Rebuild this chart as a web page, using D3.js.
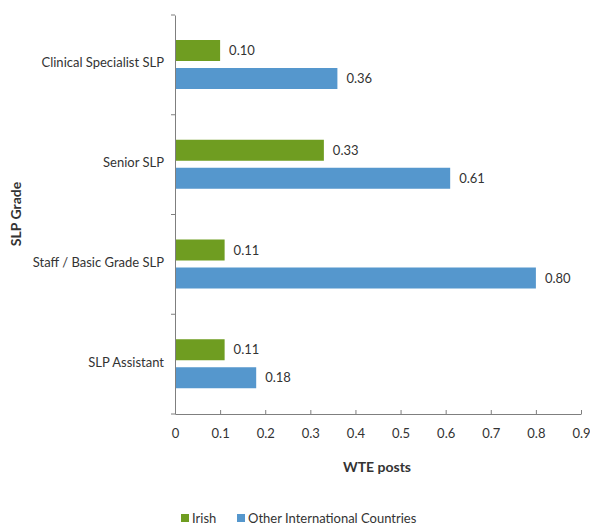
<!DOCTYPE html>
<html><head><meta charset="utf-8">
<script src="https://cdn.jsdelivr.net/npm/d3@7"></script>
<style>body{margin:0;background:#fff}svg{display:block}</style>
</head><body>
<script>
const categories = ["Clinical Specialist SLP","Senior SLP","Staff / Basic Grade SLP","SLP Assistant"];
const seriesNames = ["Irish","Other International Countries"];
const irish = [0.10, 0.33, 0.11, 0.11];
const other = [0.36, 0.61, 0.80, 0.18];
const xTicks = [0,0.1,0.2,0.3,0.4,0.5,0.6,0.7,0.8,0.9];
const colors = ["#6f9d21","#5597cd"];

const W=590,H=528;
const svg=d3.select("body").append("svg").attr("width",W).attr("height",H)
  .style("font-family","Lato, 'Open Sans', sans-serif");
const txt="#333333";
const x=d3.scaleLinear().domain([0,0.9]).range([175,581]);
const y=d3.scaleBand().domain(categories).range([15,414]);
const inner=d3.scaleBand().domain(seriesNames).range([25,74]).paddingInner(0.25);

const data=categories.map((c,i)=>({c,vals:[irish[i],other[i]]}));
const g=svg.append("g");
data.forEach(d=>{
  d.vals.forEach((v,j)=>{
    const yy=y(d.c)+inner(seriesNames[j]);
    g.append("rect").attr("x",x(0)).attr("y",yy).attr("width",x(v)-x(0)).attr("height",inner.bandwidth())
      .attr("fill",colors[j]);
    g.append("text").attr("x",x(v)+9).attr("y",yy+inner.bandwidth()/2).attr("dy","0.35em")
      .attr("font-size",13).attr("fill",txt).text(v.toFixed(2));
  });
});

// x axis
const xa=svg.append("g").attr("transform","translate(0,414)")
  .call(d3.axisBottom(x).tickValues(xTicks).tickFormat(d=>d===0?"0":d3.format(".1f")(d)).tickSizeInner(-4).tickSizeOuter(0).tickPadding(15));
xa.select(".domain").attr("stroke","#7f7f7f");
xa.selectAll(".tick line").attr("stroke","#7f7f7f");
xa.selectAll("text").attr("font-size",13).attr("fill",txt).attr("font-family","Lato, sans-serif");

// y axis
const ya=svg.append("g").attr("transform","translate(175,0)")
  .call(d3.axisLeft(y).tickValues([]).tickSizeOuter(0));
ya.select(".domain").attr("stroke","#7f7f7f");
const bounds=[15,...categories.map(c=>y(c)+y.bandwidth())];
svg.append("g").selectAll("line").data(bounds).join("line")
  .attr("x1",171).attr("x2",175).attr("y1",d=>d).attr("y2",d=>d).attr("stroke","#7f7f7f");
svg.append("g").selectAll("text").data(categories).join("text")
  .attr("x",164).attr("y",d=>y(d)+y.bandwidth()/2-2).attr("dy","0.35em").attr("text-anchor","end")
  .attr("font-size",13).attr("fill",txt).text(d=>d);

// titles
svg.append("text").attr("x",377).attr("y",467).attr("dy","0.35em").attr("text-anchor","middle")
  .attr("font-size",14).attr("font-weight","bold").attr("fill",txt).text("WTE posts");
svg.append("text").attr("transform","translate(16,214) rotate(-90)").attr("dy","0.35em").attr("text-anchor","middle")
  .attr("font-size",14).attr("font-weight","bold").attr("fill",txt).text("SLP Grade");

// legend
const legX=[181,237];
const lg=svg.append("g");
seriesNames.forEach((s,i)=>{
  lg.append("rect").attr("x",legX[i]).attr("y",514).attr("width",8).attr("height",8).attr("fill",colors[i]);
  lg.append("text").attr("x",legX[i]+11).attr("y",518).attr("dy","0.35em").attr("font-size",13)
    .attr("fill",txt).text(s);
});
</script>
</body></html>
